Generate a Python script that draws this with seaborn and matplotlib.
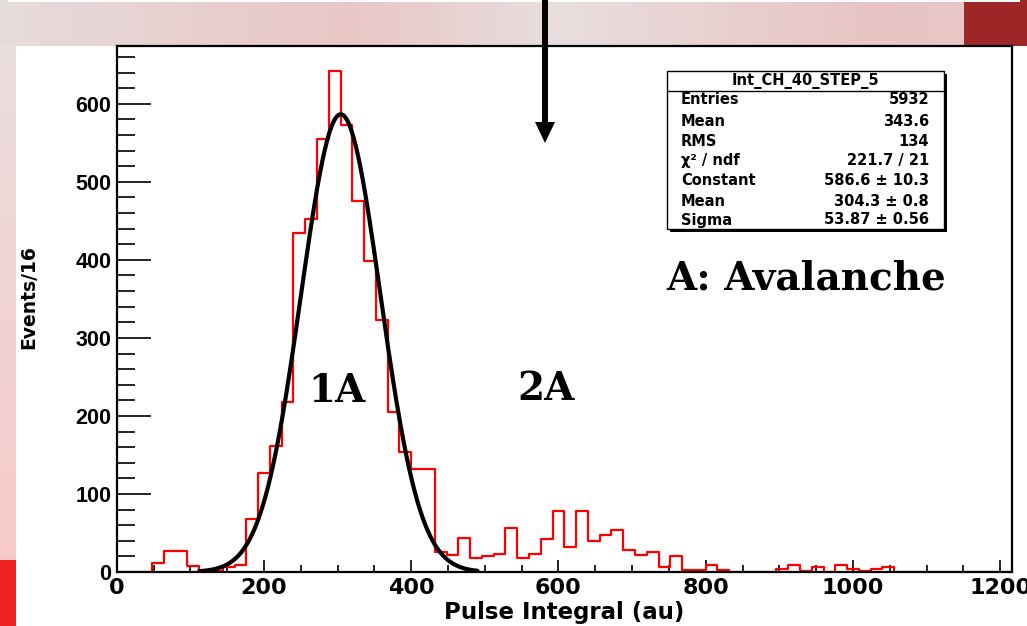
import numpy as np
import pandas as pd
import matplotlib
matplotlib.use("Agg")
import matplotlib.pyplot as plt
import seaborn as sns
from matplotlib.patches import Rectangle, Polygon
from matplotlib.lines import Line2D

# ---------------- data ----------------
bin_width = 16
x_max = 1216
counts = [0, 0, 0, 12, 27, 27, 8, 0, 1, 7, 9, 68, 127, 161, 218, 434, 453, 555, 642, 573,
          475, 398, 323, 205, 154, 132, 132, 26, 22, 44, 18, 21, 23, 56, 18, 23, 42, 78, 32, 78,
          40, 47, 54, 28, 22, 26, 6, 20, 2, 3, 9, 3, 0, 0, 0, 0, 4, 9, 1, 6,
          0, 9, 4, 1, 4, 6, 0, 0, 0, 0, 0, 0, 0, 0, 0, 0]
fit_constant = 586.6
fit_mean = 304.3
fit_sigma = 53.87
fit_range = [112, 490]
x_ticks = [0, 200, 400, 600, 800, 1000, 1200]
y_ticks = [0, 100, 200, 300, 400, 500, 600]
stat_title = "Int_CH_40_STEP_5"
stat_labels = ["Entries", "Mean", "RMS", "\u03c7\u00b2 / ndf", "Constant", "Mean", "Sigma"]
stat_values = ["5932", "343.6", "134", "221.7 / 21", "586.6 \u00b1 10.3", "304.3 \u00b1 0.8", "53.87 \u00b1 0.56"]

W, H = 1027, 626
def fx(px): return px / W
def fy(py): return 1 - py / H

sns.set_style("white")
plt.rcParams['font.family'] = ['DejaVu Sans']
plt.rcParams['text.color'] = 'black'
plt.rcParams['xtick.color'] = 'black'
plt.rcParams['ytick.color'] = 'black'
plt.rcParams['axes.labelcolor'] = 'black'

fig = plt.figure(figsize=(W / 100, H / 100), dpi=100)

# ---------------- slide background ----------------
bg = np.ones((H, W, 3))
xs_px = np.arange(W)
stops_x = [0, 350, 560, 870, 963]
def interp(c):
    return np.interp(xs_px, stops_x, c)
r = interp([0.905, 0.915, 0.91, 0.91, 0.91])
g = interp([0.86, 0.78, 0.87, 0.77, 0.78])
b = interp([0.86, 0.78, 0.87, 0.77, 0.78])
band = np.stack([r, g, b], axis=-1)
bg[0:46, :, :] = band[None, :, :]
bg[0:46, 964:, :] = np.array([0.62, 0.15, 0.15])
bg[0:2, 8:1020, :] = 1.0
rows = np.arange(46, 560)
lr = np.interp(rows, [46, 560], [0.92, 0.97])
lg = np.interp(rows, [46, 560], [0.87, 0.79])
bg[46:560, 0:16, 0] = lr[:, None]
bg[46:560, 0:16, 1] = lg[:, None]
bg[46:560, 0:16, 2] = lg[:, None]
bg[560:, 0:16, :] = np.array([0.93, 0.13, 0.13])
bgax = fig.add_axes([0, 0, 1, 1], zorder=-10)
bgax.imshow(bg, aspect='auto', extent=[0, W, H, 0], interpolation='bilinear')
bgax.axis('off')

# ---------------- main axes ----------------
left, right, top, bottom = 116.7, 1012, 46, 572
ax = fig.add_axes([fx(left), fy(bottom), (right - left) / W, (bottom - top) / H])
ax.set_facecolor('white')

edges = np.arange(0, x_max + 1, bin_width)
centers = edges[:-1] + bin_width / 2
hist_df = pd.DataFrame({"x": centers, "w": counts})
sns.histplot(data=hist_df, x="x", weights="w", bins=len(counts), binrange=(0, x_max),
             element="step", fill=False, color="#ff0000", linewidth=1.6, ax=ax)

xfit = np.linspace(fit_range[0], fit_range[1], 400)
yfit = fit_constant * np.exp(-0.5 * ((xfit - fit_mean) / fit_sigma) ** 2)
sns.lineplot(x=xfit, y=yfit, color="black", linewidth=3.0, ax=ax)

ax.set_xlim(0, x_max)
ax.set_ylim(0, max(counts) * 1.05)
ax.set_xlabel("")
ax.set_ylabel("")
ax.set_xticks(x_ticks)
ax.set_xticks(np.arange(0, x_max + 1, 50), minor=True)
ax.set_yticks(y_ticks)
ax.set_yticks(np.arange(0, 661, 20), minor=True)
ax.set_xticklabels([str(v) for v in x_ticks], fontweight='bold', fontsize=16)
ax.set_yticklabels([str(v) for v in y_ticks], fontweight='bold', fontsize=15.5,
                   family=['Liberation Sans', 'DejaVu Sans'])
ax.tick_params(axis='y', which='major', direction='in', length=24.5, width=1.2, pad=4, left=True)
ax.tick_params(axis='y', which='minor', direction='in', length=13, width=1.2, left=True)
ax.tick_params(axis='x', which='major', direction='in', length=9, width=1.2, pad=4, bottom=True)
ax.tick_params(axis='x', which='minor', direction='in', length=4.8, width=1.2, bottom=True)
for s in ax.spines.values():
    s.set_color('black')
    s.set_linewidth(1.6)
ax.grid(False)

# axis titles
fig.text(fx(564), fy(612), "Pulse Integral (au)", ha='center', va='center',
         fontsize=16.5, fontweight='bold')
fig.text(fx(29), fy(297), "Events/16", ha='center', va='center', rotation=90,
         fontsize=13.5, fontweight='bold')

# ---------------- stats box ----------------
bx0, by0, bx1, by1 = 667, 71, 944, 229
fig.add_artist(Rectangle((fx(bx0 + 3), fy(by1 + 3)), (bx1 - bx0) / W, (by1 - by0) / H,
                         transform=fig.transFigure, facecolor='black', edgecolor='none', zorder=5))
fig.add_artist(Rectangle((fx(bx0), fy(by1)), (bx1 - bx0) / W, (by1 - by0) / H,
                         transform=fig.transFigure, facecolor='white', edgecolor='black',
                         linewidth=1.0, zorder=6))
fig.add_artist(Line2D([fx(bx0), fx(bx1)], [fy(91), fy(91)], transform=fig.transFigure,
                      color='black', linewidth=1.0, zorder=7))
fig.text(fx(805), fy(81), stat_title, ha='center', va='center', fontsize=10.5,
         fontweight='bold', zorder=8)
row_y = [100, 121, 141, 161, 181, 201, 220]
for lab, val, yy in zip(stat_labels, stat_values, row_y):
    fig.text(fx(681), fy(yy), lab, ha='left', va='center', fontsize=10.5, fontweight='bold', zorder=8)
    fig.text(fx(929), fy(yy), val, ha='right', va='center', fontsize=10.5, fontweight='bold', zorder=8)

# ---------------- slide annotations ----------------
serif = ['DejaVu Serif']
fig.text(fx(337), fy(391), "1A", ha='center', va='center', fontsize=28, fontweight='bold', family=serif)
fig.text(fx(546), fy(389), "2A", ha='center', va='center', fontsize=28, fontweight='bold', family=serif)
fig.text(fx(806), fy(278), "A: Avalanche", ha='center', va='center', fontsize=28, fontweight='bold', family=serif)

# arrow
ax_x = 545
shaft = Rectangle((fx(ax_x - 3), fy(124)), 6 / W, 124 / H, transform=fig.transFigure,
                  facecolor='black', edgecolor='none', zorder=10)
fig.add_artist(shaft)
head = Polygon([[fx(ax_x - 10), fy(122)], [fx(ax_x + 10), fy(122)], [fx(ax_x), fy(143)]],
               closed=True, transform=fig.transFigure, facecolor='black', edgecolor='none', zorder=10)
fig.add_artist(head)

fig.savefig("out.png", dpi=100)
